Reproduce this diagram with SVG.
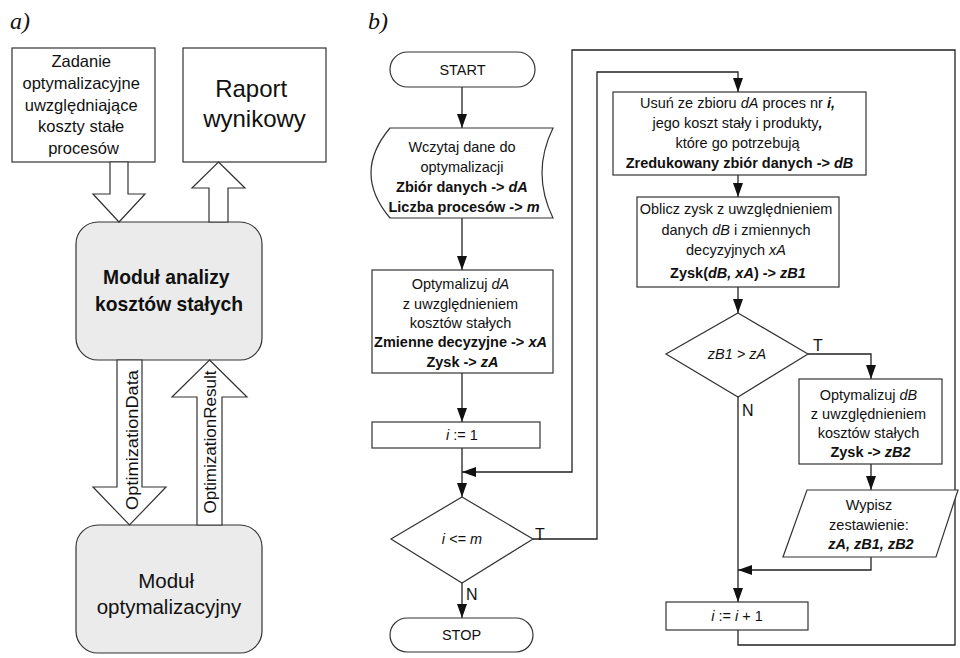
<svg xmlns="http://www.w3.org/2000/svg" width="960" height="658" viewBox="0 0 960 658">
<defs>
<marker id="ah" viewBox="0 0 14 10" refX="14" refY="5" markerWidth="14" markerHeight="10" markerUnits="userSpaceOnUse" orient="auto">
<path d="M0,0 L14,5 L0,10 z" fill="#111"/>
</marker>
<style>
.t{font-family:"Liberation Sans",Arial,sans-serif;fill:#111}
.f{font-size:14.5px}
.b{font-weight:bold}
.i{font-style:italic}
.box{fill:#fff;stroke:#333;stroke-width:1.2}
.mod{fill:#ebebeb;stroke:#333;stroke-width:1.2}
.blk{fill:#fff;stroke:#333;stroke-width:1.2}
.c{fill:none;stroke:#222;stroke-width:1.3}
.ca{fill:none;stroke:#222;stroke-width:1.3;marker-end:url(#ah)}
.lab{font-family:"Liberation Serif","Times New Roman",serif;font-style:italic;font-size:24px;fill:#111}
.yn{font-family:"Liberation Sans",Arial,sans-serif;font-size:16px;fill:#111}
</style>
</defs>
<rect width="960" height="658" fill="#fff"/>

<text class="lab" x="10" y="29">a)</text>
<text class="lab" x="368" y="29">b)</text>

<!-- Panel a -->
<g id="zadanie">
<rect class="box" x="12" y="48" width="143" height="114"/>
<text class="t" font-size="16.5" text-anchor="middle">
<tspan x="83.5" y="67">Zadanie</tspan>
<tspan x="83.5" y="89">optymalizacyjne</tspan>
<tspan x="83.5" y="110.5">uwzględniające</tspan>
<tspan x="83.5" y="132">koszty stałe</tspan>
<tspan x="83.5" y="153.5">procesów</tspan>
</text>
</g>
<g id="raport">
<rect class="box" x="183" y="48" width="143" height="114"/>
<text class="t" font-size="24" text-anchor="middle">
<tspan x="254.5" y="97">Raport</tspan>
<tspan x="254.5" y="127">wynikowy</tspan>
</text>
</g>
<g id="modul-analizy">
<rect class="mod" x="76" y="222" width="186" height="138" rx="22" ry="22"/>
<text class="t b" font-size="19.3" text-anchor="middle">
<tspan x="169" y="284">Moduł analizy</tspan>
<tspan x="169" y="311">kosztów stałych</tspan>
</text>
</g>
<g id="modul-opt">
<rect class="mod" x="76" y="525" width="186" height="128" rx="22" ry="22"/>
<text class="t" font-size="20.5" text-anchor="middle">
<tspan x="169" y="588">Moduł</tspan>
<tspan x="169" y="614">optymalizacyjny</tspan>
</text>
</g>
<g id="block-arrows">
<polygon class="blk" points="110,162 128,162 128,194 145,194 119,222 93,194 110,194"/>
<polygon class="blk" points="218.5,162 245,188 228,188 228,222 209,222 209,188 192,188"/>
<polygon class="blk" points="117,360 142,360 142,487 166,487 129.5,525 93,487 117,487"/>
<polygon class="blk" points="209.5,360 247,397 222,397 222,525 197,525 197,397 172,397"/>
<text class="t" font-size="17" text-anchor="middle" transform="translate(138,440) rotate(-90)" textLength="140" lengthAdjust="spacingAndGlyphs">OptimizationData</text>
<text class="t" font-size="17" text-anchor="middle" transform="translate(216,442) rotate(-90)" textLength="143" lengthAdjust="spacingAndGlyphs">OptimizationResult</text>
</g>

<!-- Panel b connectors -->
<g id="connectors">
<path class="ca" d="M462,87 V128"/>
<path class="ca" d="M462,218 V270"/>
<path class="ca" d="M462,373 V422"/>
<path class="ca" d="M462,448 V497"/>
<path class="ca" d="M738,630 V645 H955 V50 H572 V472 H462"/>
<path class="ca" d="M533,539 H597 V72 H738 V92"/>
<path class="ca" d="M738,175 V197"/>
<path class="ca" d="M738,287 V313"/>
<path class="ca" d="M808,354 H871 V379"/>
<path class="ca" d="M871,464 V490"/>
<path class="ca" d="M871,557 V570 H738"/>
<path class="ca" d="M738,397 V602"/>
<path class="ca" d="M462,583 V618"/>
<text class="yn" x="535" y="540">T</text>
<text class="yn" x="466" y="600">N</text>
<text class="yn" x="813" y="351">T</text>
<text class="yn" x="742" y="416">N</text>
</g>

<g id="start">
<rect class="box" x="390" y="52" width="145" height="35" rx="17.5" ry="17.5"/>
<text class="t f" x="462.5" y="75" text-anchor="middle">START</text>
</g>
<g id="wczytaj">
<path class="box" d="M390,128 H553 Q531,173 553,218 H390 Q352,173 390,128 Z"/>
<text class="t f" text-anchor="middle">
<tspan x="464" y="152">Wczytaj dane do</tspan>
<tspan x="464" y="172">optymalizacji</tspan>
<tspan x="464" y="192" class="b">Zbiór danych -&gt; <tspan class="i">dA</tspan></tspan>
<tspan x="464" y="212" class="b">Liczba procesów -&gt; <tspan class="i">m</tspan></tspan>
</text>
</g>
<g id="optymalizuj-da">
<rect class="box" x="372" y="270" width="181" height="103"/>
<text class="t f" text-anchor="middle">
<tspan x="462.5" y="289">Optymalizuj <tspan class="i">dA</tspan></tspan>
<tspan x="462.5" y="309">z uwzględnieniem</tspan>
<tspan x="462.5" y="328">kosztów stałych</tspan>
<tspan x="462.5" y="347" class="b">Zmienne decyzyjne -&gt; <tspan class="i">xA</tspan></tspan>
<tspan x="462.5" y="367" class="b">Zysk -&gt; <tspan class="i">zA</tspan></tspan>
</text>
</g>
<g id="i-init">
<rect class="box" x="372" y="422" width="168" height="26"/>
<text class="t f" x="462" y="440" text-anchor="middle"><tspan class="i">i</tspan> := 1</text>
</g>
<g id="cond-i">
<polygon class="box" points="462,497 533,539 462,583 391,539"/>
<text class="t f i" x="462" y="544" text-anchor="middle">i &lt;= m</text>
</g>
<g id="stop">
<rect class="box" x="390" y="618" width="143" height="34" rx="17" ry="17"/>
<text class="t f" x="461.5" y="640" text-anchor="middle">STOP</text>
</g>
<g id="usun">
<rect class="box" x="613" y="92" width="253" height="83"/>
<text class="t f" text-anchor="middle">
<tspan x="739.5" y="108">Usuń ze zbioru <tspan class="i">dA</tspan> proces nr <tspan class="i b">i,</tspan></tspan>
<tspan x="739.5" y="128">jego koszt stały i produkty<tspan class="i b">,</tspan></tspan>
<tspan x="739.5" y="148">które go potrzebują</tspan>
<tspan x="739.5" y="168" class="b">Zredukowany zbiór danych -&gt; <tspan class="i">dB</tspan></tspan>
</text>
</g>
<g id="oblicz">
<rect class="box" x="637" y="197" width="202" height="90"/>
<text class="t f" text-anchor="middle">
<tspan x="738" y="214">Oblicz zysk z uwzględnieniem</tspan>
<tspan x="738" y="235">danych <tspan class="i">dB</tspan> i zmiennych</tspan>
<tspan x="738" y="255">decyzyjnych <tspan class="i">xA</tspan></tspan>
<tspan x="738" y="278" class="b">Zysk(<tspan class="i">dB, xA</tspan>) -&gt; <tspan class="i">zB1</tspan></tspan>
</text>
</g>
<g id="cond-zb1">
<polygon class="box" points="738,313 808,354 738,397 666,354"/>
<text class="t f i" x="737" y="359" text-anchor="middle">zB1 &gt; zA</text>
</g>
<g id="optymalizuj-db">
<rect class="box" x="799" y="379" width="143" height="85"/>
<text class="t f" text-anchor="middle">
<tspan x="870.5" y="400">Optymalizuj <tspan class="i">dB</tspan></tspan>
<tspan x="870.5" y="419">z uwzględnieniem</tspan>
<tspan x="870.5" y="438">kosztów stałych</tspan>
<tspan x="870.5" y="457" class="b">Zysk -&gt; <tspan class="i">zB2</tspan></tspan>
</text>
</g>
<g id="wypisz">
<polygon class="box" points="807,490 958,490 936,557 783,557"/>
<text class="t f" text-anchor="middle">
<tspan x="871" y="510">Wypisz</tspan>
<tspan x="871" y="530">zestawienie:</tspan>
<tspan x="871" y="549" class="b i">zA, zB1, zB2</tspan>
</text>
</g>
<g id="i-inc">
<rect class="box" x="666" y="602" width="142" height="28"/>
<text class="t f" x="737" y="621" text-anchor="middle"><tspan class="i">i</tspan> := <tspan class="i">i</tspan> + 1</text>
</g>
</svg>
